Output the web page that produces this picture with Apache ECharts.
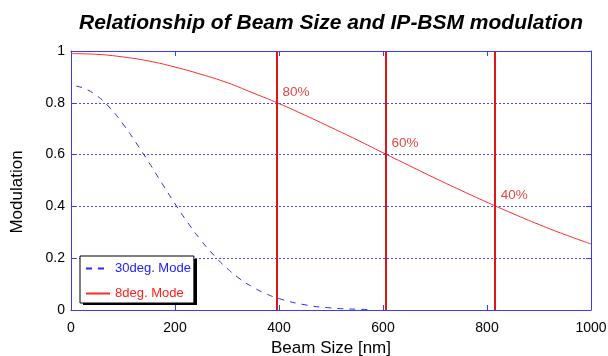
<!DOCTYPE html>
<html><head><meta charset="utf-8">
<script src="https://cdn.jsdelivr.net/npm/echarts@6/dist/echarts.min.js"></script>
<style>html,body{margin:0;padding:0;background:#fff}#c{width:608px;height:356px}</style>
</head><body><div id="c"></div>
<script>
// Beam size (nm) and modulation
const redX = [0,50,100,150,200,250,300,350,400,450,500,550,600,650,700,750,800,850,900,950,1000];
const redY = [0.990,0.987,0.977,0.961,0.938,0.910,0.878,0.838,0.797,0.752,0.705,0.657,0.607,0.558,0.509,0.462,0.416,0.372,0.330,0.291,0.255];
const blueX = [10,25,50,75,100,125,150,175,200,225,250,275,300,325,350,375,400,450,500,550,580];
const blueY = [0.864,0.856,0.827,0.780,0.718,0.646,0.569,0.489,0.410,0.336,0.269,0.211,0.161,0.120,0.088,0.063,0.044,0.020,0.008,0.003,0.002];
const markX = [395, 605, 815];
const markY = [0.8, 0.6, 0.4];
const markLabels = ['80%', '60%', '40%'];
const xTicks = [0, 1000, 200];
const yTicks = [0, 1, 0.2];
const seriesNames = ['30deg. Mode', '8deg. Mode'];
const titleText = 'Relationship of Beam Size and IP-BSM modulation';

const FONT = 'Liberation Sans, Arial, sans-serif';
const AXC = '#3a3aff';
const chart = echarts.init(document.getElementById('c'), null, {renderer: 'canvas'});
const pair = (xs, ys) => xs.map((x, i) => [x, ys[i]]);
const baseAxis = {
  axisLine: {show: true, onZero: false, lineStyle: {color: AXC, width: 1}},
  axisTick: {show: true, inside: true, length: 5, lineStyle: {color: AXC}},
  splitLine: {show: false}
};
chart.setOption({
  animation: false,
  title: {
    text: titleText, left: 326, top: 8, textAlign: 'center',
    textStyle: {fontFamily: FONT, fontSize: 21, fontWeight: 'bold', fontStyle: 'italic', color: '#000'}
  },
  grid: {left: 71, right: 17, top: 51, bottom: 46, containLabel: false, outerBoundsMode: 'none'},
  graphic: [{
    type: 'rect', z: 1, silent: true,
    shape: {x: 83, y: 259, width: 114, height: 46},
    style: {fill: '#000'}
  }],
  legend: {
    orient: 'vertical', left: 80, top: 256, z: 5,
    padding: [6, 3, 3, 5], itemGap: 12, itemWidth: 24, itemHeight: 12,
    backgroundColor: '#fff', borderColor: '#000', borderWidth: 1,
    itemStyle: {opacity: 0},
    data: [
      {name: seriesNames[0], textStyle: {color: '#2020ff'}},
      {name: seriesNames[1], textStyle: {color: '#ff2020'}}
    ],
    textStyle: {fontFamily: FONT, fontSize: 13}
  },
  xAxis: [
    Object.assign({}, baseAxis, {
      type: 'value', min: xTicks[0], max: xTicks[1], interval: xTicks[2], position: 'bottom',
      name: 'Beam Size [nm]', nameLocation: 'middle', nameGap: 29,
      nameTextStyle: {fontFamily: FONT, fontSize: 17, color: '#000'},
      axisLabel: {fontFamily: FONT, fontSize: 14, color: '#000', margin: 11, formatter: v => String(v)}
    }),
    Object.assign({}, baseAxis, {
      type: 'value', min: xTicks[0], max: xTicks[1], interval: xTicks[2], position: 'top',
      axisLabel: {show: false}
    })
  ],
  yAxis: [
    Object.assign({}, baseAxis, {
      type: 'value', min: yTicks[0], max: yTicks[1], interval: yTicks[2], position: 'left',
      name: 'Modulation', nameLocation: 'middle', nameGap: 45, nameRotate: 90,
      nameTextStyle: {fontFamily: FONT, fontSize: 17, color: '#000', padding: [0, 23, 0, 0]},
      axisLabel: {fontFamily: FONT, fontSize: 14, color: '#000', margin: 6, formatter: v => String(v)},
      splitLine: {show: true, lineStyle: {color: '#4848ff', type: [2, 2], width: 1}}
    }),
    Object.assign({}, baseAxis, {
      type: 'value', min: yTicks[0], max: yTicks[1], interval: yTicks[2], position: 'right',
      axisLabel: {show: false}
    })
  ],
  series: [
    {
      name: seriesNames[0], type: 'line', smooth: true, symbol: 'none',
      data: pair(blueX, blueY),
      lineStyle: {color: '#2a2aff', width: 1, type: [6, 6]},
      itemStyle: {color: '#2a2aff'}
    },
    {
      name: seriesNames[1], type: 'line', smooth: true, symbol: 'none',
      data: pair(redX, redY),
      lineStyle: {color: '#ff2a2a', width: 1},
      itemStyle: {color: '#ff2a2a'},
      markLine: {
        silent: true, symbol: 'none', label: {show: false},
        lineStyle: {color: '#e01515', width: 2, type: 'solid'},
        data: markX.map(x => ({xAxis: x}))
      }
    },
    {
      name: 'labels', type: 'scatter', symbolSize: 0, itemStyle: {color: 'transparent'},
      data: markX.map((x, i) => ({value: [x, markY[i]], label: {formatter: markLabels[i]}})),
      label: {show: true, position: 'right', distance: 6, offset: [0, -11],
        fontFamily: FONT, fontSize: 13.5, color: '#e01515'},
      z: 5
    }
  ]
});
</script></body></html>
